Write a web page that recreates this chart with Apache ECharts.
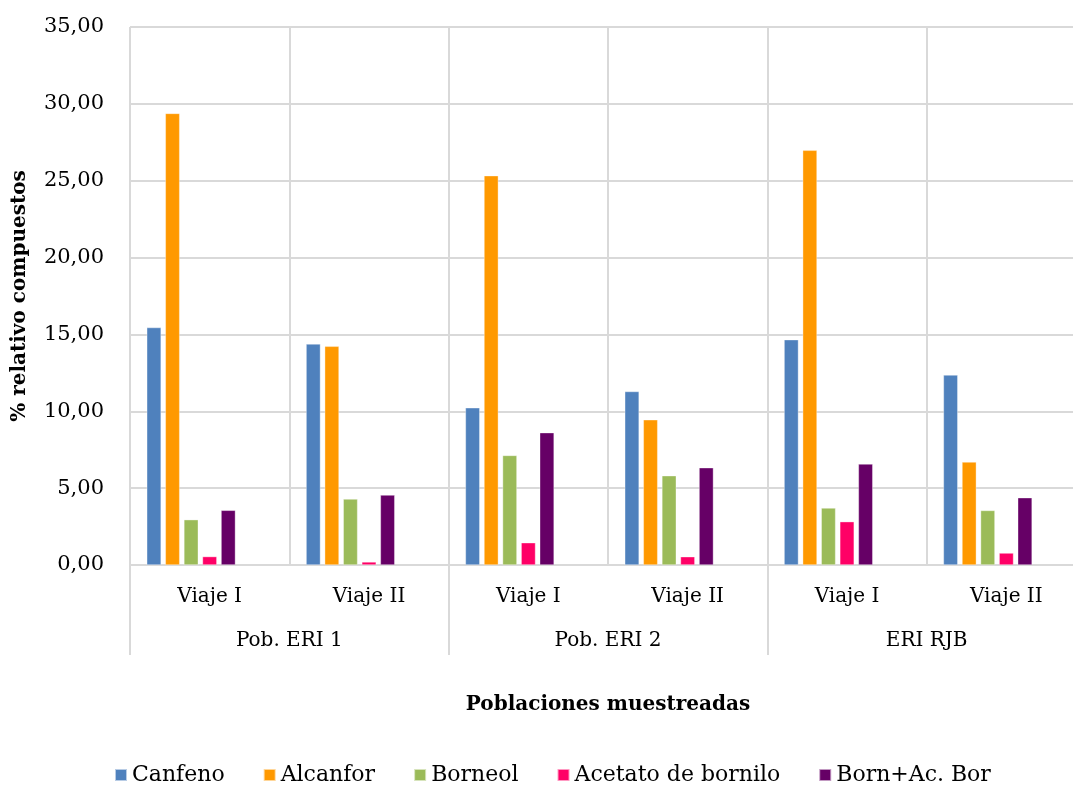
<!DOCTYPE html>
<html>
<head>
<meta charset="utf-8">
<script src="https://cdn.jsdelivr.net/npm/echarts@6/dist/echarts.min.js"></script>
<style>
html,body{margin:0;padding:0;background:#fff;overflow:hidden;width:1073px;height:787px;}
#chart{width:1090px;height:787px;}
</style>
</head>
<body>
<div id="chart"></div>
<script>
const categories = ['Viaje I', 'Viaje II', 'Viaje I', 'Viaje II', 'Viaje I', 'Viaje II'];
const groups = ['Pob. ERI 1', 'Pob. ERI 2', 'ERI RJB'];
const yTicks = [0, 5, 10, 15, 20, 25, 30, 35];
const seriesNames = ['Canfeno', 'Alcanfor', 'Borneol', 'Acetato de bornilo', 'Born+Ac. Bor'];
const canfeno = [15.45, 14.38, 10.23, 11.29, 14.66, 12.36];
const alcanfor = [29.38, 14.23, 25.33, 9.45, 26.98, 6.70];
const borneol = [2.95, 4.29, 7.13, 5.81, 3.71, 3.55];
const acetato = [0.55, 0.20, 1.45, 0.54, 2.82, 0.78];
const bornAc = [3.56, 4.55, 8.61, 6.33, 6.57, 4.38];
const colors = ['#4f81bd', '#ff9900', '#9bbb59', '#ff0066', '#660066'];

const values = [canfeno, alcanfor, borneol, acetato, bornAc];
const font = 'DejaVu Serif';

const series = values.map((d, i) => ({
  name: seriesNames[i],
  type: 'bar',
  data: d,
  xAxisIndex: 0,
  barGap: '29%',
  barCategoryGap: '21%',
  itemStyle: { color: colors[i], borderColor: 'rgba(255,255,255,0.6)', borderWidth: 0.6 }
}));
// two empty slots (as in the original workbook)
series.push({ name: 'e1', type: 'bar', data: categories.map(() => null), xAxisIndex: 0 });
series.push({ name: 'e2', type: 'bar', data: categories.map(() => null), xAxisIndex: 0 });

const chart = echarts.init(document.getElementById('chart'), null, { renderer: 'canvas' });
chart.setOption({
  animation: false,
  backgroundColor: '#fff',
  grid: { left: 130, right: 4, top: 27, height: 538, containLabel: false, outerBoundsMode: 'none' },
  legend: {
    data: seriesNames,
    top: 764,
    left: 114,
    padding: 0,
    itemWidth: 12,
    itemHeight: 12,
    itemGap: 38,
    icon: 'rect',
    textStyle: { fontFamily: font, fontSize: 22, color: '#000' }
  },
  xAxis: [
    {
      type: 'category',
      data: categories,
      position: 'bottom',
      axisLine: { show: true, lineStyle: { color: '#d9d9d9', width: 2 } },
      axisTick: { show: false },
      splitLine: { show: true, lineStyle: { color: '#d9d9d9', width: 2 } },
      axisLabel: { fontFamily: font, fontSize: 20, color: '#000', margin: 22, interval: 0 }
    },
    {
      type: 'category',
      data: groups,
      position: 'bottom',
      axisLine: { show: false },
      axisTick: { show: true, length: 90, lineStyle: { color: '#d9d9d9', width: 2 } },
      axisLabel: { fontFamily: font, fontSize: 20, color: '#000', margin: 66, interval: 0 },
      name: 'Poblaciones muestreadas',
      nameLocation: 'middle',
      nameGap: 130,
      nameTextStyle: { fontFamily: font, fontSize: 20, fontWeight: 'bold', color: '#000' }
    }
  ],
  yAxis: {
    type: 'value',
    min: yTicks[0],
    max: yTicks[yTicks.length - 1],
    interval: 5,
    axisLine: { show: false },
    axisTick: { show: false },
    splitLine: { show: true, lineStyle: { color: '#d9d9d9', width: 2 } },
    axisLabel: {
      fontFamily: font, fontSize: 21, color: '#000', margin: 26,
      formatter: v => v.toFixed(2).replace('.', ',')
    },
    name: '% relativo compuestos',
    nameLocation: 'middle',
    nameRotate: 90,
    nameGap: 100,
    nameTextStyle: { fontFamily: font, fontSize: 20, fontWeight: 'bold', color: '#000' }
  },
  series: series
});
</script>
</body>
</html>
